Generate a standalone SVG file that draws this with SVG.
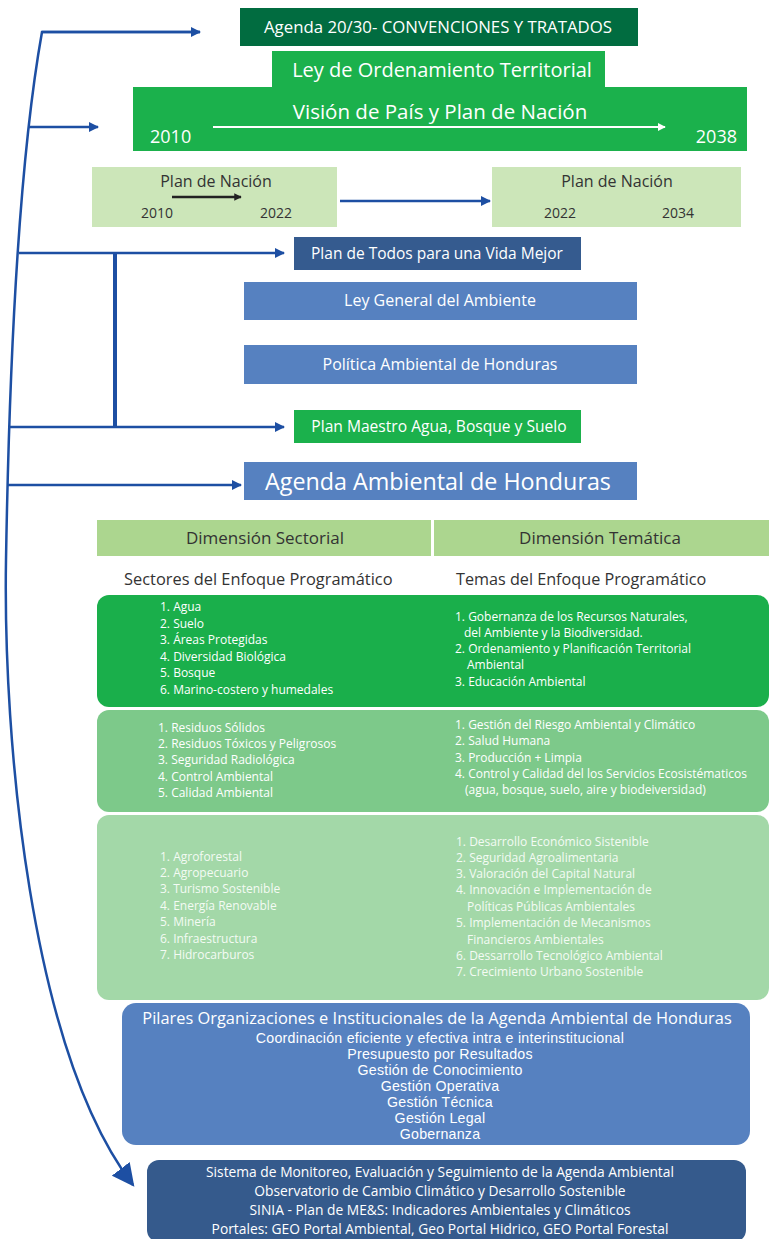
<svg xmlns="http://www.w3.org/2000/svg" width="769" height="1239" viewBox="0 0 769 1239">
<defs>
<marker id="ah" viewBox="0 0 10 10" refX="9" refY="5" markerWidth="4" markerHeight="4" orient="auto" markerUnits="strokeWidth"><path d="M0,0 L10,5 L0,10 z" fill="#1d4fa3"/></marker>
<marker id="ahw" viewBox="0 0 10 10" refX="9" refY="5" markerWidth="4" markerHeight="4" orient="auto" markerUnits="strokeWidth"><path d="M0,0 L10,5 L0,10 z" fill="#ffffff"/></marker>
<marker id="ahk" viewBox="0 0 10 10" refX="9" refY="5" markerWidth="3" markerHeight="3" orient="auto" markerUnits="strokeWidth"><path d="M0,0 L10,5 L0,10 z" fill="#222"/></marker>
<marker id="ahbig" viewBox="0 0 10 10" refX="9" refY="5" markerWidth="9" markerHeight="9" orient="auto" markerUnits="strokeWidth"><path d="M0,0 L10,5 L0,10 z" fill="#1d4fa3"/></marker>
</defs>
<style>
text{font-family:"Open Sans",Lato,"Liberation Sans",sans-serif;}
.w{fill:#ffffff;}
.d{fill:#333333;}
.c{text-anchor:middle;}
.ln{fill:none;stroke:#1d4fa3;stroke-width:2.5;}
.p{font-size:12px;fill:#ffffff;}
.p3{font-size:12px;fill:#f4fbf4;}
.pl{font-family:"Liberation Sans",Arial,sans-serif;font-size:14.2px;letter-spacing:0.25px;fill:#ffffff;text-anchor:middle;}
</style>
<rect width="769" height="1239" fill="#ffffff"/>

<g id="agenda2030"><rect x="240" y="8" width="398" height="38" fill="#016c40"/><text x="438" y="32.5" class="w c" font-size="16.8">Agenda 20/30- CONVENCIONES Y TRATADOS</text></g>
<g id="ley-ordenamiento"><rect x="272" y="51" width="333" height="37" fill="#1bb14c"/><text x="442" y="77" class="w c" font-size="20">Ley de Ordenamiento Territorial</text></g>
<g id="vision-pais"><rect x="133" y="87" width="614" height="64" fill="#1bb14c"/><text x="440" y="119" class="w c" font-size="20.5">Visión de País y Plan de Nación</text>
<text x="150" y="143" class="w" font-size="18">2010</text><text x="737" y="143" class="w" font-size="18" text-anchor="end">2038</text>
<line x1="213" y1="127" x2="665" y2="127" stroke="#ffffff" stroke-width="2" marker-end="url(#ahw)"/></g>

<g id="plan-nacion-1"><rect x="92" y="167" width="245" height="60" fill="#cce6b9"/><text x="216" y="187" class="d c" font-size="16">Plan de Nación</text>
<line x1="172" y1="197" x2="241" y2="197" stroke="#222" stroke-width="2.5" marker-end="url(#ahk)"/>
<text x="157" y="218" class="d c" font-size="14">2010</text><text x="276" y="218" class="d c" font-size="14">2022</text></g>
<g id="plan-nacion-2"><rect x="492" y="167" width="249" height="60" fill="#cce6b9"/><text x="617" y="187" class="d c" font-size="16">Plan de Nación</text>
<text x="560" y="218" class="d c" font-size="14">2022</text><text x="678" y="218" class="d c" font-size="14">2034</text></g>

<g id="plan-todos"><rect x="294" y="237" width="287" height="33" fill="#355b8f"/><text x="437" y="259" class="w c" font-size="15.5">Plan de Todos para una Vida Mejor</text></g>
<g id="ley-general"><rect x="244" y="282" width="393" height="38" fill="#5681c0"/><text x="440" y="306" class="w c" font-size="16">Ley General del Ambiente</text></g>
<g id="politica"><rect x="244" y="345" width="393" height="39" fill="#5681c0"/><text x="440" y="370" class="w c" font-size="16">Política Ambiental de Honduras</text></g>
<g id="plan-maestro"><rect x="294" y="410" width="287" height="33" fill="#1bb14c"/><text x="439" y="432" class="w c" font-size="15.6">Plan Maestro Agua, Bosque y Suelo</text></g>
<g id="agenda-ambiental"><rect x="244" y="462" width="393" height="38" fill="#5681c0"/><text x="438" y="490" class="w c" font-size="23.3">Agenda Ambiental de Honduras</text></g>

<g id="dimension-sectorial"><rect x="97" y="520" width="334" height="36" fill="#acd68f"/><text x="265" y="544" class="d c" font-size="17">Dimensión Sectorial</text>
<text x="124" y="585" class="d" font-size="16.4">Sectores del Enfoque Programático</text></g>
<g id="dimension-tematica"><rect x="434" y="520" width="335" height="36" fill="#acd68f"/><text x="600" y="544" class="d c" font-size="17">Dimensión Temática</text>
<text x="456" y="585" class="d" font-size="16.2">Temas del Enfoque Programático</text></g>

<g id="panel-1"><rect x="97" y="595" width="672" height="112" rx="12" fill="#1aaf4b"/>
<text class="p" x="160" y="611">1. Agua</text>
<text class="p" x="160" y="628">2. Suelo</text>
<text class="p" x="160" y="644">3. Áreas Protegidas</text>
<text class="p" x="160" y="661">4. Diversidad Biológica</text>
<text class="p" x="160" y="677">5. Bosque</text>
<text class="p" x="160" y="694">6. Marino-costero y humedales</text>
<text class="p" x="455" y="621">1. Gobernanza de los Recursos Naturales,</text>
<text class="p" x="464" y="637">del Ambiente y la Biodiversidad.</text>
<text class="p" x="455" y="653">2. Ordenamiento y Planificación Territorial</text>
<text class="p" x="467" y="669">Ambiental</text>
<text class="p" x="455" y="686">3. Educación Ambiental</text></g>

<g id="panel-2"><rect x="97" y="710" width="672" height="102" rx="12" fill="#7dc98a"/>
<text class="p" x="158" y="732">1. Residuos Sólidos</text>
<text class="p" x="158" y="748">2. Residuos Tóxicos y Peligrosos</text>
<text class="p" x="158" y="764">3. Seguridad Radiológica</text>
<text class="p" x="158" y="781">4. Control Ambiental</text>
<text class="p" x="158" y="797">5. Calidad Ambiental</text>
<text class="p" x="455" y="729">1. Gestión del Riesgo Ambiental y Climático</text>
<text class="p" x="455" y="745">2. Salud Humana</text>
<text class="p" x="455" y="762">3. Producción + Limpia</text>
<text class="p" x="455" y="778">4. Control y Calidad del los Servicios Ecosistématicos</text>
<text class="p" x="465" y="794">(agua, bosque, suelo, aire y biodeiversidad)</text></g>

<g id="panel-3"><rect x="97" y="815" width="672" height="185" rx="12" fill="#a3d8a8"/>
<text class="p3" x="160" y="861">1. Agroforestal</text>
<text class="p3" x="160" y="877">2. Agropecuario</text>
<text class="p3" x="160" y="893">3. Turismo Sostenible</text>
<text class="p3" x="160" y="910">4. Energía Renovable</text>
<text class="p3" x="160" y="926">5. Minería</text>
<text class="p3" x="160" y="943">6. Infraestructura</text>
<text class="p3" x="160" y="959">7. Hidrocarburos</text>
<text class="p3" x="456" y="846">1. Desarrollo Económico Sistenible</text>
<text class="p3" x="456" y="862">2. Seguridad Agroalimentaria</text>
<text class="p3" x="456" y="878">3. Valoración del Capital Natural</text>
<text class="p3" x="456" y="894">4. Innovación e Implementación de</text>
<text class="p3" x="467" y="911">Políticas Públicas Ambientales</text>
<text class="p3" x="456" y="927">5. Implementación de Mecanismos</text>
<text class="p3" x="467" y="944">Financieros Ambientales</text>
<text class="p3" x="456" y="960">6. Dessarrollo Tecnológico Ambiental</text>
<text class="p3" x="456" y="976">7. Crecimiento Urbano Sostenible</text></g>

<g id="pilares"><rect x="122" y="1003" width="628" height="142" rx="14" fill="#5681c0"/>
<text x="437" y="1024" class="w c" font-size="16.4">Pilares Organizaciones e Institucionales de la Agenda Ambiental de Honduras</text>
<text x="440" y="1043" class="pl">Coordinación eficiente y efectiva intra e interinstitucional</text>
<text x="440" y="1059" class="pl">Presupuesto por Resultados</text>
<text x="440" y="1075" class="pl">Gestión de Conocimiento</text>
<text x="440" y="1091" class="pl">Gestión Operativa</text>
<text x="440" y="1107" class="pl">Gestión Técnica</text>
<text x="440" y="1123" class="pl">Gestión Legal</text>
<text x="440" y="1139" class="pl">Gobernanza</text></g>

<g id="monitoreo"><rect x="147" y="1160" width="599" height="82" rx="12" fill="#355a8c"/>
<text x="440" y="1177" class="w c" font-size="13.8">Sistema de Monitoreo, Evaluación y Seguimiento de la Agenda Ambiental</text>
<text x="440" y="1196" class="w c" font-size="13.8">Observatorio de Cambio Climático y Desarrollo Sostenible</text>
<text x="440" y="1215" class="w c" font-size="13.8">SINIA - Plan de ME&amp;S: Indicadores Ambientales y Climáticos</text>
<text x="440" y="1234" class="w c" font-size="13.8">Portales: GEO Portal Ambiental, Geo Portal Hidrico, GEO Portal Forestal</text></g>

<g id="connectors">
<path class="ln" d="M200,32 L42,32 Q12,200 6,560 C3,740 30,1050 133,1185" marker-end="url(#ahbig)" stroke-width="2"/>
<line class="ln" x1="29" y1="127" x2="98" y2="127" marker-end="url(#ah)"/>
<line class="ln" x1="42" y1="32" x2="200" y2="32" marker-end="url(#ah)"/>
<line class="ln" x1="19" y1="253" x2="284" y2="253" marker-end="url(#ah)"/>
<line class="ln" x1="8" y1="427" x2="284" y2="427" marker-end="url(#ah)"/>
<line class="ln" x1="7" y1="485" x2="241" y2="485" marker-end="url(#ah)"/>
<line x1="115" y1="253" x2="115" y2="427" stroke="#1d4fa3" stroke-width="4"/>
<line class="ln" x1="340" y1="201" x2="490" y2="201" marker-end="url(#ah)" stroke-width="3"/>
</g>
</svg>
